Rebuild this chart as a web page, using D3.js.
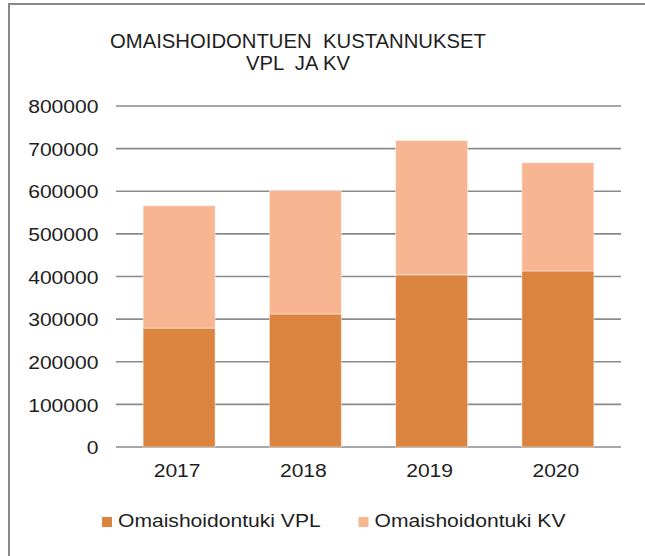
<!DOCTYPE html>
<html>
<head>
<meta charset="utf-8">
<script src="https://cdn.jsdelivr.net/npm/d3@7/dist/d3.min.js"></script>
<style>
  html, body { margin: 0; padding: 0; background: #fff; }
  svg { display: block; }
  text { font-family: "Liberation Sans", Arial, sans-serif; fill: #1e1e1e; }
</style>
</head>
<body>
<svg id="chart" width="645" height="556"></svg>
<script>
// Omaishoidontuen kustannukset, euroa vuodessa
const years = ["2017", "2018", "2019", "2020"];
const vplValues = [279000, 312000, 404000, 413000];
const kvValues = [287000, 290000, 315000, 254000];
const seriesNames = ["Omaishoidontuki VPL", "Omaishoidontuki KV"];
const seriesColors = ["#DB8440", "#F8B592"];
const yTicks = [0, 100000, 200000, 300000, 400000, 500000, 600000, 700000, 800000];
const titleLines = ["OMAISHOIDONTUEN  KUSTANNUKSET", "VPL  JA KV"];

const svg = d3.select("#chart");
const sx = 1.14;          // horizontal text stretch
const fs = 18.5;          // label font size

// outer frame
svg.append("rect")
  .attr("x", 9).attr("y", 4)
  .attr("width", 700).attr("height", 600)
  .attr("fill", "none").attr("stroke", "#888").attr("stroke-width", 2);

const plot = { left: 116, right: 621, top: 106, bottom: 447 };

const x = d3.scaleBand()
  .domain(years)
  .range([plot.left, plot.right])
  .paddingInner(0.43)
  .paddingOuter(0.215);

const y = d3.scaleLinear()
  .domain([0, 800000])
  .range([plot.bottom, plot.top]);

// title
const title = svg.append("g").attr("transform", "translate(298,0)");
titleLines.forEach((t, i) => {
  title.append("text")
    .attr("text-anchor", "middle")
    .attr("y", 47.5 + i * 22.5)
    .attr("font-size", 20.3)
    .style("white-space", "pre")
    .attr("xml:space", "preserve")
    .text(t);
});

// horizontal gridlines
svg.append("g")
  .selectAll("line")
  .data(yTicks)
  .join("line")
  .attr("x1", plot.left).attr("x2", plot.right)
  .attr("y1", d => y(d)).attr("y2", d => y(d))
  .attr("stroke", "#8a8a8a").attr("stroke-width", 1.6);

// y axis labels
const yAxis = svg.append("g")
  .attr("transform", `translate(${plot.left},0)`)
  .call(d3.axisLeft(y).tickValues(yTicks).tickFormat(d3.format("d")).tickSize(0).tickPadding(0));
yAxis.select(".domain").remove();
yAxis.selectAll("text")
  .attr("font-size", fs)
  .attr("font-family", null)
  .attr("fill", null)
  .attr("dy", "0.36em")
  .attr("x", -17.5 / sx)
  .attr("transform", `scale(${sx},1)`);

// stacked bars
const stackData = years.map((yr, i) => ({ year: yr, vpl: vplValues[i], kv: kvValues[i] }));
const stack = d3.stack().keys(["vpl", "kv"]);
const layers = stack(stackData);

svg.append("g")
  .selectAll("g")
  .data(layers)
  .join("g")
  .attr("fill", (d, i) => seriesColors[i])
  .selectAll("rect")
  .data(d => d)
  .join("rect")
  .attr("x", d => x(d.data.year))
  .attr("width", x.bandwidth())
  .attr("y", d => y(d[1]))
  .attr("height", d => y(d[0]) - y(d[1]))
  .attr("stroke", "#ffffff").attr("stroke-opacity", 0.45).attr("stroke-width", 1);

// x axis labels
const xAxis = svg.append("g")
  .attr("transform", `translate(-2,${plot.bottom})`)
  .call(d3.axisBottom(x).tickSize(0).tickPadding(0));
xAxis.select(".domain").remove();
xAxis.selectAll(".tick").each(function () {
  const t = d3.select(this).select("text");
  t.attr("font-size", fs)
    .attr("font-family", null)
    .attr("fill", null)
    .attr("y", 30)
    .attr("dy", null)
    .attr("transform", `scale(${sx},1)`);
});

// legend
const legendItems = [
  { sq: 102, tx: 118 },
  { sq: 358.5, tx: 374.5 }
];
const legend = svg.append("g");
seriesNames.forEach((name, i) => {
  legend.append("rect")
    .attr("x", legendItems[i].sq).attr("y", 517)
    .attr("width", 10).attr("height", 10)
    .attr("fill", seriesColors[i]);
  legend.append("text")
    .attr("x", legendItems[i].tx / sx)
    .attr("y", 527)
    .attr("font-size", fs)
    .attr("transform", `scale(${sx},1)`)
    .text(name);
});
</script>
</body>
</html>
